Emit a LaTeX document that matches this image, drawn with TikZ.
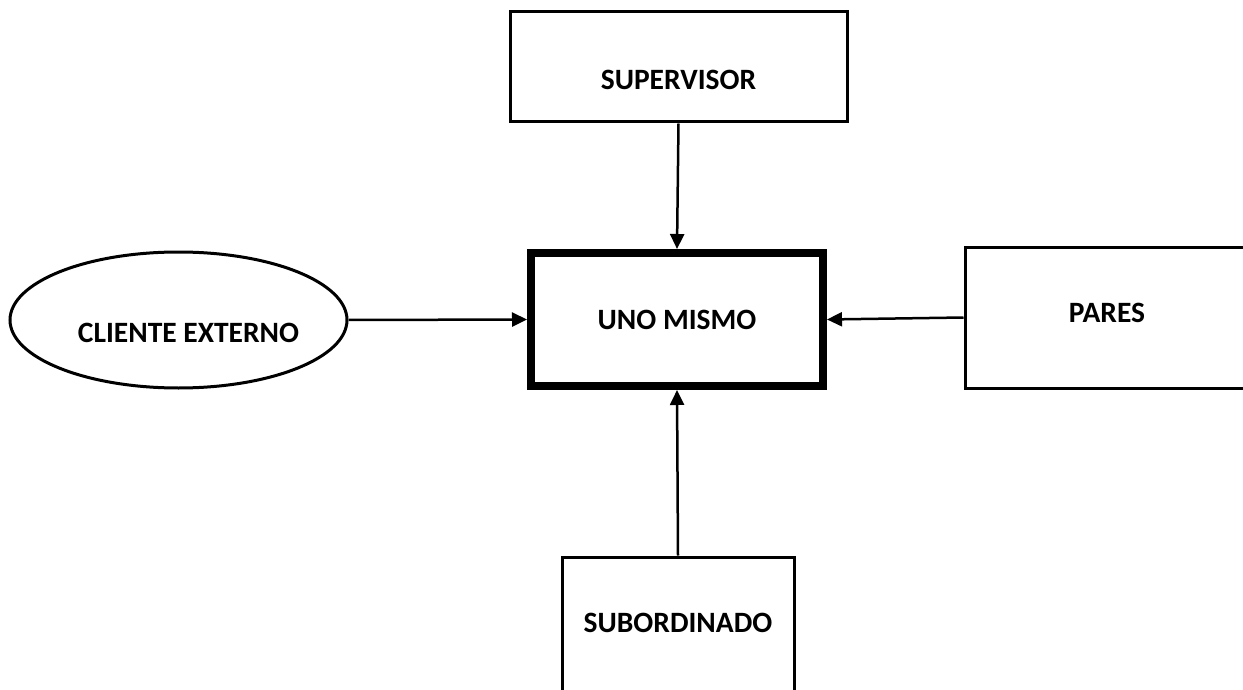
\documentclass[tikz,border=0pt]{standalone}
\usepackage{fontspec}
\setmainfont{Carlito}
\usetikzlibrary{arrows.meta,shapes.geometric}

\begin{document}
\begin{tikzpicture}[x=1pt, y=-1pt,
		box/.style={draw, line width=3pt, rectangle},
		txt/.style={font=\fontsize{29.5}{35}\selectfont\bfseries},
		conn/.style={line width=2.5pt, -{Triangle[length=15pt,width=14pt]}}]
			%%%%% START %%%%%
			
			\useasboundingbox (0, 0) rectangle (1243, 690);
			\clip (0, 0) rectangle (1243, 690);
			
			\node[box, line width=8pt, minimum width=292pt, minimum height=133pt, txt] (self) at (677, 319.5) {UNO MISMO};
			
			\node[box, minimum width=337pt, minimum height=110pt,
				label={[txt, yshift=-12.5pt]center:SUPERVISOR}] (sup) at (678.5, 67) {};
			
			\node[draw, ellipse, line width=3pt, minimum width=337pt, minimum height=136pt, inner sep=0pt,
				label={[txt, xshift=10pt, yshift=-13pt]center:CLIENTE EXTERNO}] (cli) at (178.5, 320) {};
			
			\node[box, minimum width=600pt, minimum height=141pt,
				label={[txt, xshift=-158pt, yshift=4.5pt]center:PARES}] (par) at (1265, 317.5) {};
			
			\node[box, minimum width=232pt, minimum height=163pt,
				label={[txt, yshift=15.5pt]center:SUBORDINADO}] (sub) at (678, 638.5) {};
			
			\draw[conn] (sup.south) -- (self.north);
			\draw[conn] (cli.east) -- (self.west);
			\draw[conn] (par.west) -- (self.east);
			\draw[conn] (sub.north) -- (self.south);
			
			%%%%% END %%%%%
		\end{tikzpicture}
\end{document}
